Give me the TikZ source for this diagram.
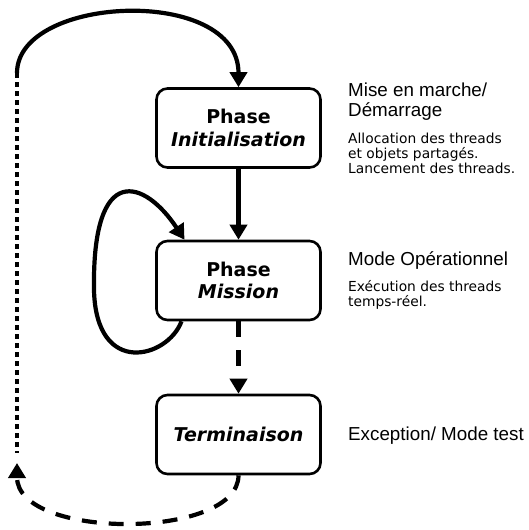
\documentclass[tikz,border=0pt]{standalone}
\usepackage{fontspec}
\setmainfont{DejaVu Sans}
\newfontfamily\headfont{Liberation Sans}
\usetikzlibrary{arrows.meta}
\begin{document}
\begin{tikzpicture}[x=1pt,y=-1pt,
  phasebox/.style={draw, line width=2.6pt, rounded corners=11pt,
    minimum width=164pt, minimum height=79pt, align=center, inner sep=0pt,
    font=\fontsize{19}{22.5}\selectfont\bfseries},
  tip/.style={-{Triangle[width=17pt,length=15pt]}},
  flow/.style={line width=4.2pt, tip},
  dashflow/.style={flow, dash pattern=on 16pt off 13pt},
  dotline/.style={line width=3.6pt, dash pattern=on 4.5pt off 4.5pt},
  heading/.style={anchor=base west, inner sep=0pt, font=\headfont\fontsize{18.8}{22}\selectfont},
  note/.style={anchor=base west, inner sep=0pt, font=\fontsize{13.8}{15}\selectfont},
]
\useasboundingbox (0,0) rectangle (528,530);

% phase boxes
\node[phasebox] (init) at (238.5,128) {Phase\\{\itshape Initialisation}};
\node[phasebox] (mission) at (238.5,280.5) {Phase\\{\itshape Mission}};
\node[phasebox] (term) at (238.5,434.5) {\itshape Terminaison};

% free ends of the return path on the left
\coordinate (loopTop) at (17,73);
\coordinate (retTop) at (17,453);
\coordinate (retTip) at (17,463);
\coordinate (selfStart) at ([xshift=-57pt]mission.south);
\coordinate (selfEnd) at ([xshift=-54pt]mission.north);

% transitions
\draw[flow] (loopTop) .. controls (17,-5) and (238.5,-15) .. (init.north);
\draw[flow] (init) -- (mission);
\draw[flow] (selfStart) .. controls (168,358) and (96,378) .. (94,290)
  .. controls (92,160) and (145,180) .. (selfEnd);
\draw[dashflow] (mission) -- (term);
\draw[flow, dash pattern=on 15pt off 12pt] (term.south)
  .. controls (238.5,540) and (17,540) .. (retTip);
\draw[dotline] (loopTop) -- (retTop);

% descriptions
\node[heading] (h1a) at (348,96) {Mise en marche/};
\node[heading] (h1b) at (348,116) {Démarrage};
\node[note] (n1a) at (348,143) {Allocation des threads};
\node[note] (n1b) at (348,158) {et objets partagés.};
\node[note] (n1c) at (348,173) {Lancement des threads.};
\node[heading] (h2) at (348,265) {Mode Opérationnel};
\node[note] (n2a) at (348,291) {Exécution des threads};
\node[note] (n2b) at (348,306) {temps-réel.};
\node[heading] (h3) at (348,440) {Exception/ Mode test};
\end{tikzpicture}
\end{document}
